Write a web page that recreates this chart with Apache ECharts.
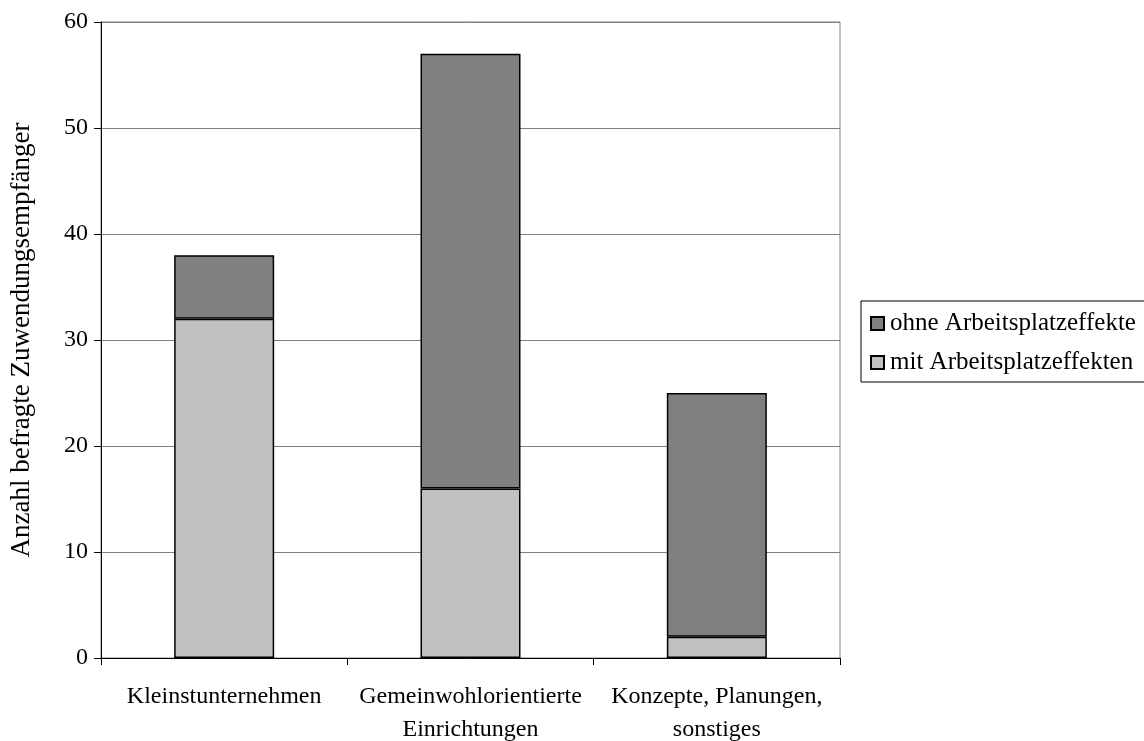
<!DOCTYPE html>
<html>
<head>
<meta charset="utf-8">
<script src="https://cdn.jsdelivr.net/npm/echarts@6/dist/echarts.min.js"></script>
<style>
html,body{margin:0;padding:0;background:#fff;}
#chart{width:1144px;height:741px;}
</style>
</head>
<body>
<div id="chart"></div>
<script>
const categories = ['Kleinstunternehmen', 'Gemeinwohlorientierte\nEinrichtungen', 'Konzepte, Planungen,\nsonstiges'];
const mitValues = [32, 16, 2];
const ohneValues = [6, 41, 23];
const seriesNames = ['ohne Arbeitsplatzeffekte', 'mit Arbeitsplatzeffekten'];
const yAxisTitle = 'Anzahl befragte Zuwendungsempfänger';

const FONT = 'Liberation Serif';
const FS = 24;

const chart = echarts.init(document.getElementById('chart'), null, {renderer: 'canvas'});
chart.setOption({
  animation: false,
  backgroundColor: '#ffffff',
  textStyle: {fontFamily: FONT, color: '#000'},
  grid: {
    left: 101, right: 304, top: 22, bottom: 83,
    containLabel: false, outerBoundsMode: 'none',
    show: true, borderColor: '#808080', borderWidth: 1, backgroundColor: 'transparent'
  },
  legend: {
    orient: 'vertical',
    left: 861,
    top: 301,
    padding: [10, 30, 7, 9],
    itemGap: 14,
    itemWidth: 13,
    itemHeight: 13,
    icon: 'rect',
    borderColor: '#000',
    borderWidth: 1,
    borderRadius: 0,
    data: seriesNames,
    textStyle: {fontFamily: FONT, fontSize: 25, color: '#000', padding: [0, 0, 0, 1]}
  },
  xAxis: {
    type: 'category',
    data: categories,
    boundaryGap: true,
    axisLine: {lineStyle: {color: '#000', width: 1}},
    axisTick: {show: true, length: 7, lineStyle: {color: '#000'}},
    axisLabel: {fontFamily: FONT, fontSize: FS, color: '#000', margin: 22, lineHeight: 33, interval: 0}
  },
  yAxis: {
    type: 'value',
    min: 0, max: 60, interval: 10,
    name: yAxisTitle,
    nameLocation: 'middle',
    nameGap: 66,
    nameTextStyle: {fontFamily: FONT, fontSize: 27, color: '#000'},
    axisLine: {show: true, lineStyle: {color: '#000', width: 1}},
    axisTick: {show: true, length: 7, lineStyle: {color: '#000'}},
    axisLabel: {fontFamily: FONT, fontSize: FS, color: '#000', margin: 13},
    splitLine: {show: true, lineStyle: {color: '#808080', width: 1}}
  },
  series: [
    {
      name: seriesNames[1], type: 'bar', stack: 'total', data: mitValues,
      barWidth: 100,
      itemStyle: {color: '#c0c0c0', borderColor: '#000', borderWidth: 1.5}
    },
    {
      name: seriesNames[0], type: 'bar', stack: 'total', data: ohneValues,
      barWidth: 100,
      itemStyle: {color: '#808080', borderColor: '#000', borderWidth: 1.5}
    }
  ]
});
</script>
</body>
</html>
